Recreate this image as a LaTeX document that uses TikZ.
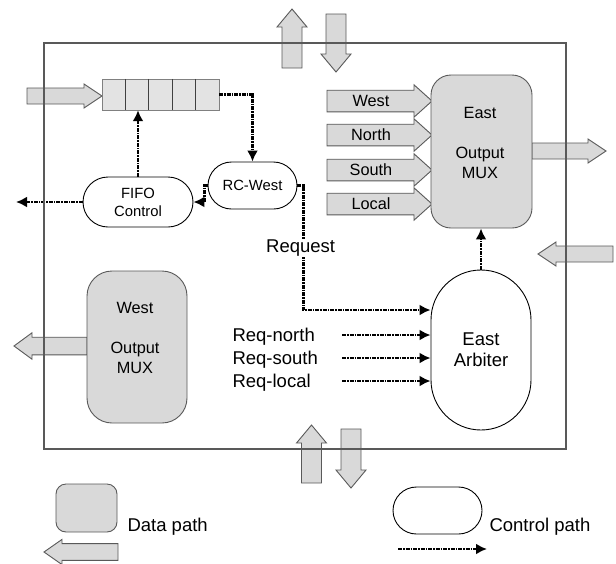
\documentclass[tikz,border=0pt]{standalone}
\usepackage{fontspec}
\setmainfont{Liberation Sans}
\usetikzlibrary{shapes.misc,arrows.meta}

\definecolor{datagray}{gray}{0.85}
\definecolor{fifogray}{gray}{0.89}
\definecolor{edgegray}{gray}{0.35}

\tikzset{
  txtbig/.style={font=\fontsize{18.5}{21}\selectfont},
  txtmid/.style={font=\fontsize{16.3}{20}\selectfont},
  txtsmall/.style={font=\fontsize{14.8}{18}\selectfont},
  datablk/.style={draw=edgegray, fill=datagray, line width=0.9pt, inner sep=0pt},
  ctrlblk/.style={draw, rounded rectangle, line width=0.9pt, inner sep=0pt},
  ctrl/.style={line width=2.7pt, dash pattern=on 4pt off 1pt on 1.5pt off 1pt,
    -{Latex[length=11pt,width=11pt]}},
  pics/fat arrow/.style={code={
    \draw[draw=edgegray, fill=datagray, line width=0.9pt]
      (0,-8) -- (#1-18,-8) -- (#1-18,-12) -- (#1,0) -- (#1-18,12)
      -- (#1-18,8) -- (0,8) -- cycle;
  }},
}

\begin{document}
\begin{tikzpicture}[x=1pt, y=-1pt]
  \useasboundingbox (0,0) rectangle (616,563);

  % data path arrows through the router border
  \pic[rotate=90, yscale=1.25] at (292,68) {fat arrow=59};
  \pic[rotate=-90, yscale=1.25] at (336,14) {fat arrow=58};
  \pic[rotate=90, yscale=1.25] at (311.5,483) {fat arrow=58};
  \pic[rotate=-90, yscale=1.25] at (351,429) {fat arrow=59};
  \pic at (27,96) {fat arrow=75};
  \pic at (532,151) {fat arrow=74};
  \pic[rotate=180] at (613,254) {fat arrow=75};
  \pic[rotate=180, yscale=1.1] at (87,346) {fat arrow=73};

  % inputs of the east output mux
  \foreach \y/\txt [count=\i] in {101/West, 135/North, 170/South, 204/Local} {
    \pic[yscale=1.35] at (327,\y) {fat arrow=105};
    \node[txtmid] (in\i) at (371,\y) {\txt};
  }

  % blocks
  \node[draw=gray, fill=fifogray, minimum width=117pt, minimum height=31pt,
    inner sep=0pt] (buf) at (160.5,94.5) {};
  \foreach \i in {1,...,4}
    \draw[black!75, line width=0.9pt] ([xshift=\i*23.4pt]buf.north west)
      -- ([xshift=\i*23.4pt]buf.south west);
  \node[ctrlblk, txtsmall, minimum width=89pt, minimum height=47pt] (rcw)
    at (252.5,185.5) {RC-West};
  \node[ctrlblk, txtsmall, align=center, minimum width=110pt, minimum height=50pt]
    (fifo) at (138,202) {FIFO\\Control};
  \node[datablk, rounded corners=20pt, minimum width=101pt, minimum height=153pt]
    (emux) at (481.5,151.5) {};
  \node[txtmid, align=center] (emuxtxt) at (480,143) {East\\[20pt]Output\\MUX};
  \node[datablk, rounded corners=25pt, minimum width=100pt, minimum height=152pt]
    (wmux) at (137,347) {};
  \node[txtmid, align=center] (wmuxtxt) at (135,338) {West\\[20pt]Output\\MUX};
  \node[draw, line width=0.9pt, rounded corners=50pt, minimum width=100pt,
    minimum height=160pt, txtbig, align=center, inner sep=0pt] (arb)
    at (481,350) {East\\Arbiter};

  % control path
  \coordinate (wout) at (16,202);
  \draw[ctrl] (buf.east) -| (rcw.north);
  \draw[ctrl] (fifo.north) -- (fifo.north |- buf.south);
  \draw[ctrl] (rcw.west) -- ++(-3,0) |- (fifo.east);
  \draw[ctrl] (fifo.west) -- (wout);
  \draw[ctrl] (rcw.east) -- ++(6,0) |- ([yshift=40pt]arb.west);
  \draw[ctrl] (arb.north) -- (arb.north |- emux.south);
  \node[txtbig, anchor=west, fill=white, inner sep=1pt] (req) at (265,248) {Request};
  \foreach \y/\txt [count=\i] in {337/Req-north, 360/Req-south, 383/Req-local} {
    \node[txtbig, anchor=west] (rq\i) at (229,\y) {\txt};
    \coordinate (rqs\i) at (342,\y-2);
    \draw[ctrl] (rqs\i) -- (rqs\i -| arb.west);
  }

  % router border
  \draw[edgegray, line width=1.2pt] (44,43) rectangle (566,449);

  % legend
  \node[datablk, rounded corners=10pt, minimum width=61pt, minimum height=48pt]
    (legdata) at (86.5,508) {};
  \node[txtbig, anchor=west] (legdatatxt) at (124,527) {Data path};
  \pic[rotate=180, yscale=1.05] at (118,552) {fat arrow=74};
  \node[ctrlblk, minimum width=89pt, minimum height=47pt] (legctrl) at (437.5,510.5) {};
  \node[txtbig, anchor=west] (legctrltxt) at (486,527) {Control path};
  \coordinate (lc1) at (398,549);
  \coordinate (lc2) at (487,549);
  \draw[ctrl] (lc1) -- (lc2);
\end{tikzpicture}
\end{document}
